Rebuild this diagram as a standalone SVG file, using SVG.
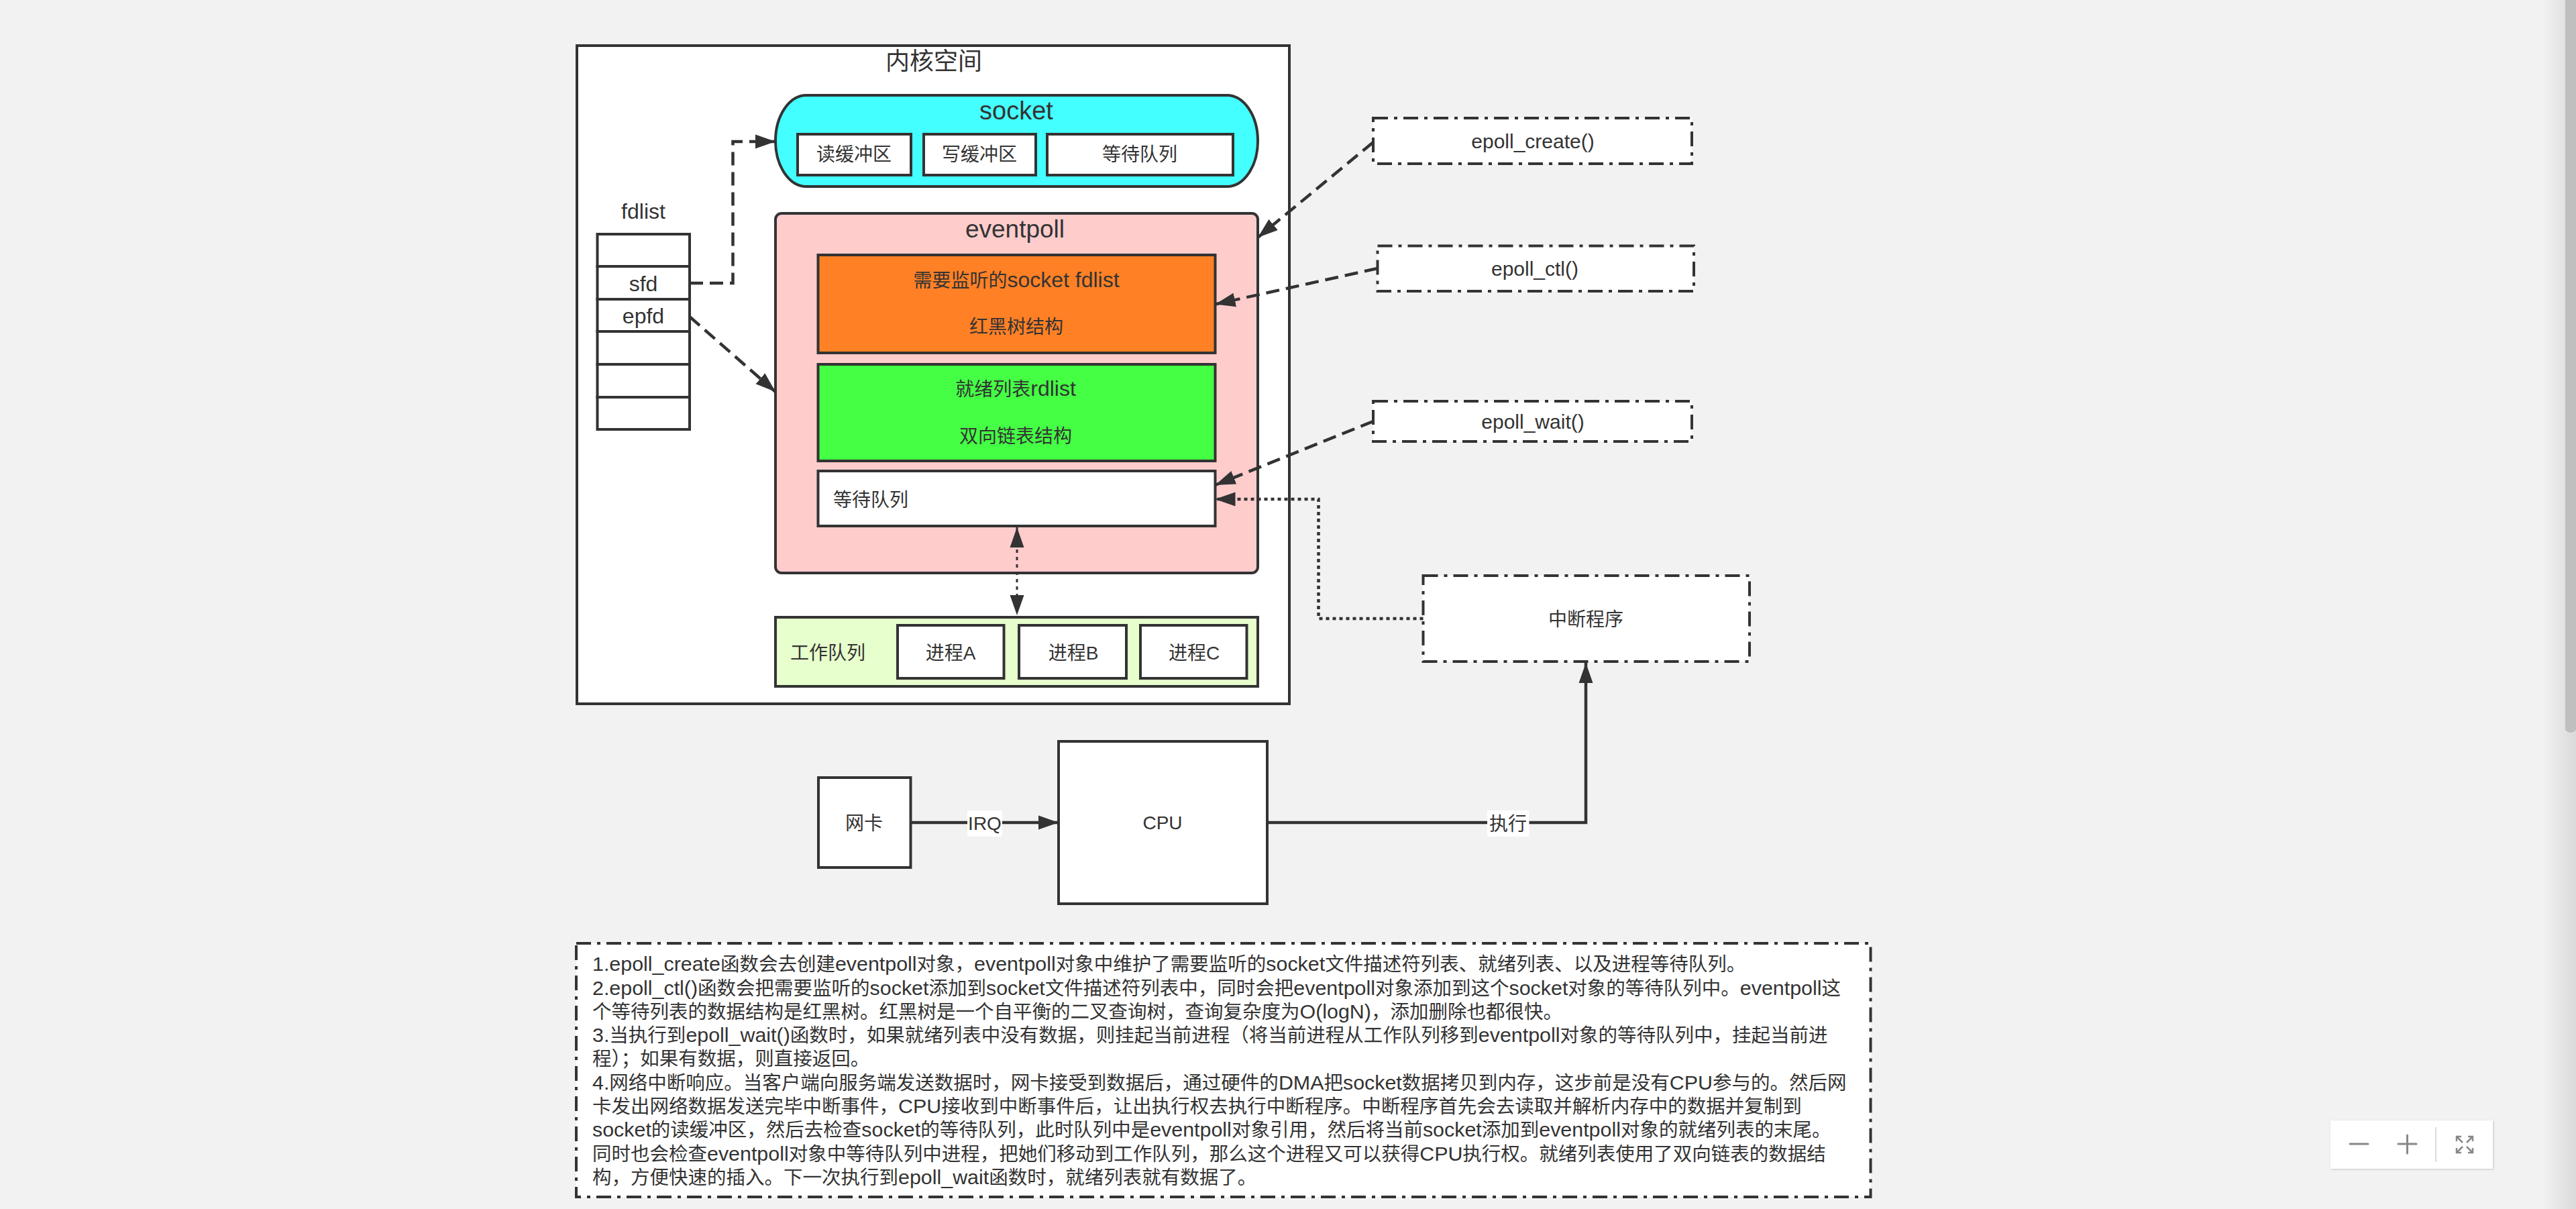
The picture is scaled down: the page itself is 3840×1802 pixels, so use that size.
<svg xmlns="http://www.w3.org/2000/svg" width="3840" height="1802" viewBox="0 0 3840 1802">
<style>
text{font-family:"Liberation Sans","Noto Sans CJK SC",sans-serif;font-size:28px;fill:#333;text-anchor:middle}
.lat{font-size:32px}
.l{font-size:30px}
.b{font-size:28.500px}
.n{font-size:30.400px}
.big{font-size:36px}
.start{text-anchor:start}
.box{fill:#fff;stroke:#333;stroke-width:4}
.dd{fill:#fff;stroke:#333;stroke-width:4;stroke-dasharray:22 9 5 9}
.c{fill:none;stroke:#333;stroke-width:4.500}
.dash{stroke-dasharray:20 10}
.dot{stroke-dasharray:5 5}
.a{marker-end:url(#arrow)}
.ui{fill:none;stroke:#888;stroke-width:3;stroke-linecap:round}
</style>
<defs>
<marker id="arrow" markerUnits="userSpaceOnUse" markerWidth="30" markerHeight="22" viewBox="0 0 30 22" refX="30" refY="11" orient="auto-start-reverse"><path d="M0 0.500L30 11L0 21.500Z" fill="#333"/></marker>
<linearGradient id="edge" x1="0" x2="1" y1="0" y2="0"><stop offset="0" stop-color="#000" stop-opacity="0"/><stop offset="1" stop-color="#000" stop-opacity=".1"/></linearGradient>
<filter id="sh" x="-5%" y="-10%" width="110%" height="125%"><feDropShadow dx="1" dy="1" stdDeviation="1.500" flood-color="#000" flood-opacity=".18"/></filter>
</defs>
<rect id="background" width="3840" height="1802" fill="#f2f2f2"/>
<rect x="3790" y="0" width="50" height="1802" fill="url(#edge)"/>
<path id="scrollbar" d="M3824 0H3840V1088Q3832 1096 3824 1088Z" fill="#bfbfbf"/>

<g id="kernel"><rect class="box" x="860" y="68" width="1062" height="981"/><text class="big" x="1392" y="104">内核空间</text></g>

<g id="socket"><rect x="1156" y="142" width="719" height="136" rx="46" ry="68" fill="#44ffff" stroke="#333" stroke-width="4"/><text x="1515" y="178" class="big" style="font-size:38px">socket</text></g>
<g id="read-buffer"><rect class="box" x="1189" y="200" width="169" height="61"/><text x="1273" y="240">读缓冲区</text></g>
<g id="write-buffer"><rect class="box" x="1377" y="200" width="167" height="61"/><text x="1460" y="240">写缓冲区</text></g>
<g id="socket-wait-queue"><rect class="box" x="1561" y="200" width="277" height="61"/><text x="1699" y="240">等待队列</text></g>

<g id="fdlist"><text class="lat" x="959" y="326">fdlist</text>
<rect class="box" x="890.500" y="349" width="137.500" height="48"/>
<rect class="box" x="890.500" y="397" width="137.500" height="49"/><text class="lat" x="959" y="434">sfd</text>
<rect class="box" x="890.500" y="446" width="137.500" height="48"/><text class="lat" x="959" y="482">epfd</text>
<rect class="box" x="890.500" y="494" width="137.500" height="49"/>
<rect class="box" x="890.500" y="543" width="137.500" height="49"/>
<rect class="box" x="890.500" y="592" width="137.500" height="48"/></g>

<g id="eventpoll"><rect x="1156" y="318" width="719" height="536" rx="9" fill="#ffcccc" stroke="#333" stroke-width="4"/><text x="1513" y="354" class="big" style="font-size:37px">eventpoll</text></g>
<g id="rbtree"><rect x="1219.500" y="380" width="592" height="146" fill="#ff8025" stroke="#333" stroke-width="4"/><text x="1515" y="428">需要监听的<tspan class="lat">socket fdlist</tspan></text><text x="1515" y="497">红黑树结构</text></g>
<g id="rdlist"><rect x="1219.500" y="543" width="592" height="144" fill="#44ff44" stroke="#333" stroke-width="4"/><text x="1514" y="590">就绪列表<tspan class="lat">rdlist</tspan></text><text x="1514" y="660">双向链表结构</text></g>
<g id="epoll-wait-queue"><rect class="box" x="1219.500" y="702" width="592" height="82"/><text class="start" x="1242" y="755">等待队列</text></g>

<g id="work-queue"><rect x="1156" y="920" width="719" height="103" fill="#e6ffcc" stroke="#333" stroke-width="4"/><text class="start" x="1178" y="983">工作队列</text></g>
<g id="process-a"><rect class="box" x="1338" y="932" width="158.500" height="79"/><text x="1417" y="983">进程A</text></g>
<g id="process-b"><rect class="box" x="1519" y="932" width="160" height="79"/><text x="1600" y="983">进程B</text></g>
<g id="process-c"><rect class="box" x="1700" y="932" width="158.500" height="79"/><text x="1780" y="983">进程C</text></g>

<g id="epoll-create"><rect class="dd" x="2047" y="176" width="475" height="68"/><text class="l" x="2285" y="221">epoll_create()</text></g>
<g id="epoll-ctl"><rect class="dd" x="2053.500" y="366.500" width="471.500" height="67.500"/><text class="l" x="2288" y="411">epoll_ctl()</text></g>
<g id="epoll-wait"><rect class="dd" x="2047" y="598" width="475" height="60"/><text class="l" x="2285" y="639">epoll_wait()</text></g>
<g id="interrupt"><rect class="dd" x="2121.500" y="858" width="486.500" height="128"/><text x="2364" y="933">中断程序</text></g>

<g id="nic"><rect class="box" x="1220" y="1159" width="137.500" height="134"/><text x="1288" y="1237">网卡</text></g>
<g id="cpu"><rect class="box" x="1578" y="1105" width="311" height="242"/><text x="1733" y="1236">CPU</text></g>

<g id="connectors">
<path class="c dash a" d="M1028 422H1092.500V211H1156"/>
<path class="c dash a" d="M1028 472L1156 584"/>
<path class="c dash a" d="M2047 212L1875 354"/>
<path class="c dash a" d="M2053.500 400L1811.500 453.500"/>
<path class="c dash a" d="M2047 628L1811.500 723"/>
<path class="c dot a" d="M2121.500 922H1965.500V744H1811.500"/>
<path class="c" style="stroke-width:3;stroke-dasharray:5 6;marker-start:url(#arrow);marker-end:url(#arrow)" d="M1516 786V917"/>
<path class="c a" d="M1357.500 1226H1578"/>
<path class="c a" d="M1889 1226H2364V988"/>
<g id="label-irq"><rect x="1442" y="1208" width="52" height="39" fill="#fff"/><text x="1468" y="1237">IRQ</text></g>
<g id="label-exec"><rect x="2217" y="1208" width="62.500" height="39" fill="#fff"/><text x="2248" y="1238">执行</text></g>
</g>

<g id="notes"><rect class="dd" x="859" y="1406" width="1929.500" height="378"/>
<text class="start b" x="883" y="1447"><tspan class="n">1.epoll_create</tspan>函数会去创建<tspan class="n">eventpoll</tspan>对象，<tspan class="n">eventpoll</tspan>对象中维护了需要监听的<tspan class="n">socket</tspan>文件描述符列表、就绪列表、以及进程等待队列。</text>
<text class="start b" x="883" y="1483"><tspan class="n">2.epoll_ctl()</tspan>函数会把需要监听的<tspan class="n">socket</tspan>添加到<tspan class="n">socket</tspan>文件描述符列表中，同时会把<tspan class="n">eventpoll</tspan>对象添加到这个<tspan class="n">socket</tspan>对象的等待队列中。<tspan class="n">eventpoll</tspan>这</text>
<text class="start b" x="883" y="1518">个等待列表的数据结构是红黑树。红黑树是一个自平衡的二叉查询树，查询复杂度为<tspan class="n">O(logN)</tspan>，添加删除也都很快。</text>
<text class="start b" x="883" y="1553"><tspan class="n">3.</tspan>当执行到<tspan class="n">epoll_wait()</tspan>函数时，如果就绪列表中没有数据，则挂起当前进程（将当前进程从工作队列移到<tspan class="n">eventpoll</tspan>对象的等待队列中，挂起当前进</text>
<text class="start b" x="883" y="1588">程）；如果有数据，则直接返回。</text>
<text class="start b" x="883" y="1624"><tspan class="n">4.</tspan>网络中断响应。当客户端向服务端发送数据时，网卡接受到数据后，通过硬件的<tspan class="n">DMA</tspan>把<tspan class="n">socket</tspan>数据拷贝到内存，这步前是没有<tspan class="n">CPU</tspan>参与的。然后网</text>
<text class="start b" x="883" y="1659">卡发出网络数据发送完毕中断事件，<tspan class="n">CPU</tspan>接收到中断事件后，让出执行权去执行中断程序。中断程序首先会去读取并解析内存中的数据并复制到</text>
<text class="start b" x="883" y="1694"><tspan class="n">socket</tspan>的读缓冲区，然后去检查<tspan class="n">socket</tspan>的等待队列，此时队列中是<tspan class="n">eventpoll</tspan>对象引用，然后将当前<tspan class="n">socket</tspan>添加到<tspan class="n">eventpoll</tspan>对象的就绪列表的末尾。</text>
<text class="start b" x="883" y="1730">同时也会检查<tspan class="n">eventpoll</tspan>对象中等待队列中进程，把她们移动到工作队列，那么这个进程又可以获得<tspan class="n">CPU</tspan>执行权。就绪列表使用了双向链表的数据结</text>
<text class="start b" x="883" y="1765">构，方便快速的插入。下一次执行到<tspan class="n">epoll_wait</tspan>函数时，就绪列表就有数据了。</text>
</g>

<g id="zoom-controls"><rect x="3474" y="1670" width="242" height="72" fill="#fff" filter="url(#sh)"/>
<path class="ui" d="M3503 1705H3530M3575 1705H3602M3588.500 1692V1719"/>
<path d="M3631 1680V1732" stroke="#ddd" stroke-width="2"/>
<path fill="none" stroke="#888" stroke-width="2.500" d="M3662 1701V1694H3669M3662 1694L3671 1703M3686 1701V1694H3679M3686 1694L3677 1703M3662 1711V1718H3669M3662 1718L3671 1709M3686 1711V1718H3679M3686 1718L3677 1709"/></g>
</svg>
